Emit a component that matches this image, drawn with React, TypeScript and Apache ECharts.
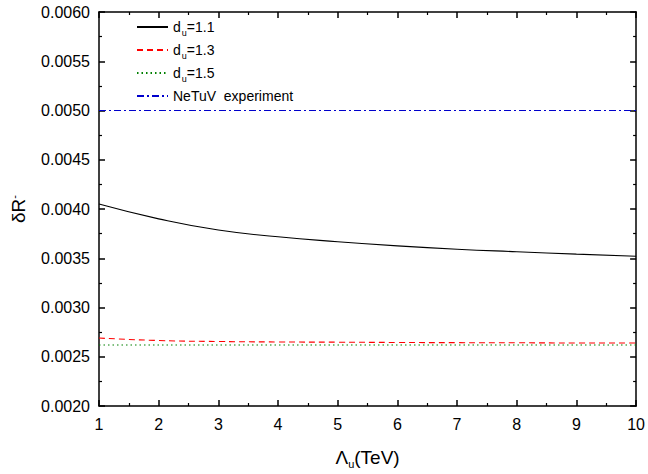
import React, { useEffect, useRef } from "react";
import * as echarts from "echarts";

const lambdaTeV = [1, 2, 3, 4, 5, 6, 7, 8, 9, 10];
const du11 = [0.00405, 0.0039, 0.003786, 0.003718, 0.003668, 0.003626, 0.003592, 0.003566, 0.003542, 0.003521];
const du13 = [0.00269, 0.002665, 0.002655, 0.00265, 0.002648, 0.002645, 0.002643, 0.002642, 0.00264, 0.00264];
const du15 = [0.00262, 0.00262, 0.00262, 0.00262, 0.00262, 0.00262, 0.00262, 0.00262, 0.00262, 0.00262];
const netuvX = [1, 10];
const netuvY = [0.005, 0.005];
const seriesNames = ["du=1.1", "du=1.3", "du=1.5", "NeTuV  experiment"];

const FONT = "'Liberation Sans', Arial, sans-serif";

function pairs(xs: number[], ys: number[]) {
  return xs.map((x, i) => [x, ys[i]]);
}

export default function App() {
  const ref = useRef<HTMLDivElement>(null);
  useEffect(() => {
    if (!ref.current) return;
    const chart = echarts.init(ref.current, undefined, { renderer: "svg" });
    const axisCommon = {
      axisLine: { show: true, lineStyle: { color: "#000", width: 1.5 } },
      axisTick: { show: true, inside: true, length: 6, lineStyle: { color: "#000", width: 1.5 } },
      minorTick: { show: true, splitNumber: 2, length: 3, lineStyle: { color: "#000", width: 1.2 } },
      splitLine: { show: false },
    };
    chart.setOption({
      animation: false,
      backgroundColor: "#fff",
      textStyle: { fontFamily: FONT },
      grid: { left: 97, right: 8, top: 12, bottom: 64 },
      legend: {
        orient: "vertical",
        left: 131,
        top: 15,
        itemWidth: 31,
        itemHeight: 10,
        itemGap: 6,
        data: seriesNames,
        itemStyle: { opacity: 0 },
        formatter: (name: string) => {
          if (name.startsWith("du=")) {
            return "{t|d}{s|u}{t|" + name.slice(2) + "}";
          }
          return "{t|" + name + "}";
        },
        textStyle: {
          fontFamily: FONT,
          fontSize: 14,
          color: "#000",
          rich: {
            t: { fontSize: 14, fontFamily: FONT, color: "#000" },
            s: { fontSize: 9, fontFamily: FONT, color: "#000", padding: [11, 0, 0, 1] },
          },
        },
      },
      xAxis: [
        {
          type: "value",
          min: 1,
          max: 10,
          interval: 1,
          ...axisCommon,
          axisLabel: { color: "#000", fontSize: 16, fontFamily: FONT, margin: 10 },
          name: "{t|Λ}{s|u}{t|(TeV)}",
          nameLocation: "middle",
          nameGap: 40,
          nameTextStyle: {
            fontFamily: FONT,
            color: "#000",
            rich: {
              t: { fontSize: 19, fontFamily: FONT, color: "#000" },
              s: { fontSize: 11, fontFamily: FONT, color: "#000", padding: [12, 0, 0, 0] },
            },
          },
        },
        {
          type: "value",
          position: "top",
          min: 1,
          max: 10,
          interval: 1,
          ...axisCommon,
          axisLabel: { show: false },
        },
      ],
      yAxis: [
        {
          type: "value",
          min: 0.002,
          max: 0.006,
          interval: 0.0005,
          ...axisCommon,
          axisLabel: {
            color: "#000",
            fontSize: 16,
            fontFamily: FONT,
            margin: 9,
            formatter: (v: number) => v.toFixed(4),
          },
          name: "{t|δR}{s|-}",
          nameLocation: "middle",
          nameRotate: 90,
          nameGap: 70,
          nameTextStyle: {
            fontFamily: FONT,
            color: "#000",
            rich: {
              t: { fontSize: 19, fontFamily: FONT, color: "#000" },
              s: { fontSize: 11, fontFamily: FONT, color: "#000", padding: [0, 0, 10, 0] },
            },
          },
        },
        {
          type: "value",
          position: "right",
          min: 0.002,
          max: 0.006,
          interval: 0.0005,
          ...axisCommon,
          axisLabel: { show: false },
        },
      ],
      series: [
        {
          name: seriesNames[0],
          type: "line",
          data: pairs(lambdaTeV, du11),
          smooth: 0.5,
          symbol: "none",
          lineStyle: { color: "#000", width: 1.1, type: "solid" },
          itemStyle: { color: "#000" },
        },
        {
          name: seriesNames[1],
          type: "line",
          data: pairs(lambdaTeV, du13),
          smooth: 0.5,
          symbol: "none",
          lineStyle: { color: "#ff0000", width: 1.1, type: [6, 4] },
          itemStyle: { color: "#ff0000" },
        },
        {
          name: seriesNames[2],
          type: "line",
          data: pairs(lambdaTeV, du15),
          symbol: "none",
          lineStyle: { color: "#008000", width: 1.1, type: [1.5, 3] },
          itemStyle: { color: "#008000" },
        },
        {
          name: seriesNames[3],
          type: "line",
          data: pairs(netuvX, netuvY),
          symbol: "none",
          lineStyle: { color: "#0000cc", width: 1.1, type: [7, 3, 2, 3] },
          itemStyle: { color: "#0000cc" },
        },
      ],
    });
    return () => chart.dispose();
  }, []);
  return <div ref={ref} style={{ width: 648, height: 474, position: "absolute", left: 0, top: 0 }} />;
}
